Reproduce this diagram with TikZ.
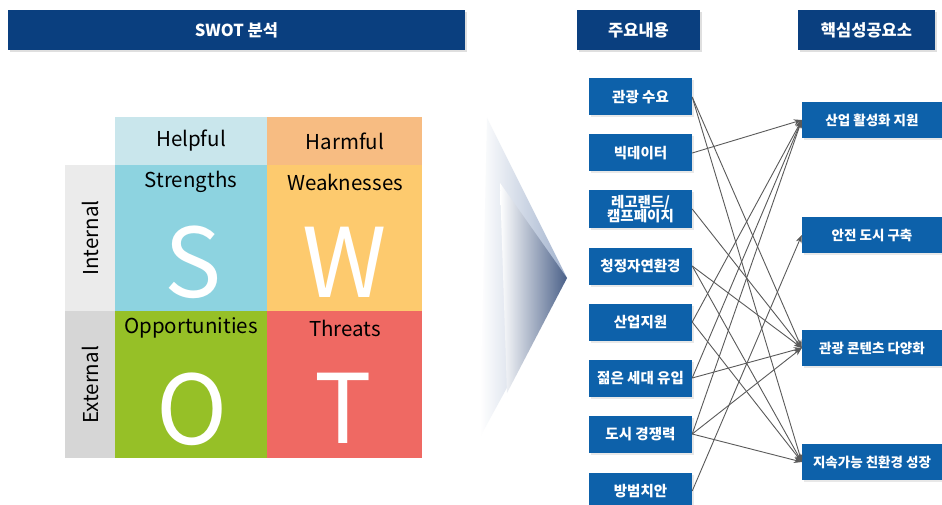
\documentclass[tikz,border=0pt]{standalone}
\usepackage{fontspec}
\setmainfont{Noto Sans CJK KR}
\usetikzlibrary{arrows.meta,shadows,calc}
\definecolor{hdrblue}{HTML}{0A3F7F}
\definecolor{boxblue}{HTML}{0D61AA}
\definecolor{cHelp}{HTML}{C9E6EC}
\definecolor{cHarm}{HTML}{F7BC82}
\definecolor{cInt}{HTML}{EBEBEB}
\definecolor{cExt}{HTML}{D6D6D6}
\definecolor{cS}{HTML}{8DD3E0}
\definecolor{cW}{HTML}{FDCA6E}
\definecolor{cO}{HTML}{96C027}
\definecolor{cT}{HTML}{EF6963}
\definecolor{linegray}{HTML}{5A5A5A}
\definecolor{chevA}{HTML}{9FB0CC}
\definecolor{chevB}{HTML}{4A6088}
\tikzset{
  hdr/.style={fill=hdrblue, text=white, font=\fontsize{16.5}{19}\selectfont\bfseries,
    minimum height=40, inner sep=0, drop shadow={opacity=0.25, shadow xshift=2pt, shadow yshift=-2pt}},
  lbox/.style={fill=boxblue, text=white, font=\fontsize{14.5}{16.5}\selectfont\bfseries,
    minimum width=103, minimum height=37, inner sep=0, align=center,
    drop shadow={opacity=0.18, shadow xshift=2pt, shadow yshift=-2pt}},
  rbox/.style={fill=boxblue, text=white, font=\fontsize{13.5}{15}\selectfont\bfseries,
    minimum width=140, minimum height=36, inner sep=0,
    drop shadow={opacity=0.18, shadow xshift=2pt, shadow yshift=-2pt}},
  cell/.style={anchor=north west, inner sep=0, outer sep=0},
  celltxt/.style={font=\fontsize{20.5}{22}\selectfont, text=black, inner sep=0},
  bigl/.style={font=\fontsize{96}{100}\selectfont, text=white, inner sep=0, anchor=base},
  link/.style={draw=linegray, line width=0.9pt, -{Stealth[length=8pt,width=6pt]}},
}
\begin{document}
\begin{tikzpicture}[x=1pt,y=-1pt]
\useasboundingbox[fill=white] (0,0) rectangle (942,505);

% headers
\node[hdr, minimum width=457] (h1) at (236.5,30) {SWOT 분석};
\node[hdr, minimum width=123] (h2) at (638.5,30) {주요내용};
\node[hdr, minimum width=137] (h3) at (866.5,30) {핵심성공요소};

% SWOT matrix
\node[cell, fill=cHelp, minimum width=152, minimum height=48] (help) at (115,117) {};
\node[cell, fill=cHarm, minimum width=155, minimum height=48] (harm) at (267,117) {};
\node[cell, fill=cInt, minimum width=50, minimum height=146] (int) at (65,165) {};
\node[cell, fill=cExt, minimum width=50, minimum height=147] (ext) at (65,311) {};
\node[cell, fill=cS, minimum width=152, minimum height=146] (sq) at (115,165) {};
\node[cell, fill=cW, minimum width=155, minimum height=146] (wq) at (267,165) {};
\node[cell, fill=cO, minimum width=152, minimum height=147] (oq) at (115,311) {};
\node[cell, fill=cT, minimum width=155, minimum height=147] (tq) at (267,311) {};

\node[celltxt] (thelp) at (191,141) {Helpful};
\node[celltxt] (tharm) at (345,141) {Harmful};
\node[celltxt] (ts) at (191,182) {Strengths};
\node[celltxt] (tw) at (345,182) {Weaknesses};
\node[celltxt] (to) at (191,328) {Opportunities};
\node[celltxt] (tt) at (345,328) {Threats};
\node[celltxt, rotate=90] (tint) at (90,238) {Internal};
\node[celltxt, rotate=90] (text) at (90,385) {External};

\node[bigl] (bs) at (193,297) {S};
\node[bigl] (bw) at (345,297) {W};
\node[bigl] (bo) at (192,444) {O};
\node[bigl] (bt) at (343.5,443) {T};

% chevron
\shade[left color=white, right color=chevA] (487,118) -- (567,278) -- (480,437) -- cycle;
\shade[left color=white, right color=chevB] (500,183) -- (567,278) -- (507,393) -- cycle;

% left boxes
\node[lbox] (a1) at (640.5,97) {관광 수요};
\node[lbox] (a2) at (640.5,153) {빅데이터};
\node[lbox] (a3) at (640.5,209) {레고랜드/\\[-2pt]캠프페이지};
\node[lbox] (a4) at (640.5,266) {청정자연환경};
\node[lbox] (a5) at (640.5,322) {산업지원};
\node[lbox] (a6) at (640.5,378) {젊은 세대 유입};
\node[lbox] (a7) at (640.5,434) {도시 경쟁력};
\node[lbox] (a8) at (640.5,491) {방범치안};

% right boxes
\node[rbox] (b1) at (872,120) {산업 활성화 지원};
\node[rbox] (b2) at (872,235) {안전 도시 구축};
\node[rbox] (b3) at (872,348) {관광 콘텐츠 다양화};
\node[rbox] (b4) at (872,462) {지속가능 친환경 성장};

% links
\draw[link] (a1.east) -- (b3.west);
\draw[link] (a1.east) -- (b4.west);
\draw[link] (a2.east) -- (b1.west);
\draw[link] (a3.east) -- (b3.west);
\draw[link] (a4.east) -- (b3.west);
\draw[link] (a4.east) -- (b4.west);
\draw[link] (a5.east) -- (b1.west);
\draw[link] (a5.east) -- (b4.west);
\draw[link] (a6.east) -- (b1.west);
\draw[link] (a6.east) -- (b3.west);
\draw[link] (a7.east) -- (b1.west);
\draw[link] (a7.east) -- (b3.west);
\draw[link] (a7.east) -- (b4.west);
\draw[link] (a8.east) -- (b2.west);
\end{tikzpicture}
\end{document}
